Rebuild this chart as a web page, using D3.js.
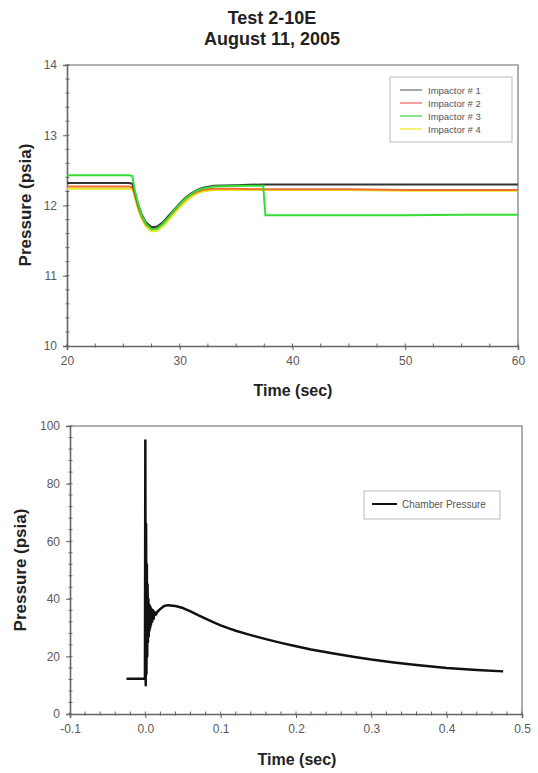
<!DOCTYPE html>
<html><head><meta charset="utf-8">
<script src="https://cdn.jsdelivr.net/npm/d3@7"></script>
<style>
body{margin:0;background:#fff;}
svg text{font-family:"Liberation Sans",Arial,sans-serif;}
</style></head>
<body><svg id="c" width="538" height="773"></svg>
<script>
// ---- Top chart data ----
const titleLines = ["Test 2-10E", "August 11, 2005"];
const topTime = [20, 22, 24, 25.5, 25.8, 26.0, 26.3, 26.6, 27.0, 27.5, 28.0, 28.5, 29.0, 29.5, 30.0, 30.5, 31.0, 31.5, 32.0, 33.0, 35.0, 37.4, 37.6, 40, 45, 50, 55, 60];
const impactor1 = [12.32, 12.32, 12.32, 12.32, 12.31, 12.20, 12.02, 11.88, 11.76, 11.69, 11.70, 11.76, 11.85, 11.94, 12.03, 12.11, 12.17, 12.22, 12.25, 12.28, 12.29, 12.30, 12.30, 12.30, 12.30, 12.30, 12.30, 12.30];
const impactor2 = [12.27, 12.27, 12.27, 12.27, 12.26, 12.16, 11.98, 11.85, 11.73, 11.67, 11.68, 11.74, 11.83, 11.92, 12.01, 12.09, 12.15, 12.19, 12.22, 12.24, 12.24, 12.23, 12.23, 12.23, 12.23, 12.22, 12.22, 12.22];
const impactor3 = [12.43, 12.43, 12.43, 12.43, 12.42, 12.22, 12.03, 11.87, 11.74, 11.66, 11.67, 11.74, 11.83, 11.93, 12.02, 12.10, 12.16, 12.21, 12.24, 12.27, 12.28, 12.28, 11.86, 11.86, 11.86, 11.86, 11.87, 11.87];
const impactor4 = [12.24, 12.24, 12.24, 12.24, 12.23, 12.12, 11.95, 11.82, 11.70, 11.63, 11.64, 11.70, 11.79, 11.88, 11.97, 12.05, 12.12, 12.17, 12.20, 12.22, 12.22, 12.22, 12.22, 12.22, 12.22, 12.21, 12.21, 12.21];
const topSeriesNames = ["Impactor # 1", "Impactor # 2", "Impactor # 3", "Impactor # 4"];
const topXTicks = [20, 30, 40, 50, 60];
const topYTicks = [10, 11, 12, 13, 14];

// ---- Bottom chart data ----
const botTime = [-0.025, -0.0005, 0, 0.0005, 0.001, 0.0015, 0.002, 0.0025, 0.003, 0.0035, 0.004, 0.0045, 0.005, 0.0055, 0.006, 0.0065, 0.007, 0.0075, 0.008, 0.009, 0.010, 0.011, 0.012, 0.014, 0.016, 0.02, 0.025, 0.03, 0.04, 0.05, 0.06, 0.07, 0.08, 0.09, 0.1, 0.11, 0.12, 0.14, 0.16, 0.18, 0.2, 0.22, 0.25, 0.28, 0.3, 0.33, 0.36, 0.4, 0.44, 0.475];
const chamberPressure = [12.2, 12.2, 95, 10, 66, 14, 52, 20, 45, 25, 40, 27, 38, 29, 37.5, 30, 37, 31, 36.5, 32, 36, 33, 35.5, 34.5, 35.5, 36.5, 37.5, 37.8, 37.5, 36.8, 35.6, 34.3, 33.1, 31.9, 30.8, 29.8, 28.9, 27.4, 26, 24.7, 23.5, 22.4, 21, 19.7, 18.9, 17.9, 17, 16, 15.3, 14.8];
const botSeriesName = "Chamber Pressure";
const botXTicks = [-0.1, 0.0, 0.1, 0.2, 0.3, 0.4, 0.5];
const botYTicks = [0, 20, 40, 60, 80, 100];
const axisTitleX = "Time (sec)";
const axisTitleY = "Pressure (psia)";

const svg = d3.select("#c");
const axisColor = "#666";
const labelColor = "#5a5a5a";

// title
svg.append("text").attr("x", 272).attr("y", 24).attr("text-anchor", "middle")
  .attr("font-size", 18).attr("font-weight", "bold").attr("fill", "#222").text(titleLines[0]);
svg.append("text").attr("x", 272).attr("y", 45).attr("text-anchor", "middle")
  .attr("font-size", 18).attr("font-weight", "bold").attr("fill", "#222").text(titleLines[1]);

function drawFrame(g, x, y, majX, minX, majY, minY, fmtX, fmtY) {
  const [x0, x1] = x.range();
  const [y0, y1] = y.range(); // y0 bottom, y1 top
  g.append("path").attr("d", `M${x0},${y1}H${x1}V${y0}`).attr("fill", "none")
    .attr("stroke", "#999").attr("stroke-width", 1.6);
  const gx = g.append("g");
  minX.forEach(v => gx.append("line").attr("x1", x(v)).attr("x2", x(v)).attr("y1", y0 - 2.5).attr("y2", y0 + 1.5)
    .attr("stroke", axisColor).attr("stroke-width", 1));
  minY.forEach(v => gx.append("line").attr("y1", y(v)).attr("y2", y(v)).attr("x1", x0 - 1.5).attr("x2", x0 + 2.5)
    .attr("stroke", axisColor).attr("stroke-width", 1));
  const ax = d3.axisBottom(x).tickValues(majX).tickSize(4).tickPadding(6).tickFormat(fmtX);
  const ay = d3.axisLeft(y).tickValues(majY).tickSize(4).tickPadding(6).tickFormat(fmtY);
  const gX = g.append("g").attr("transform", `translate(0,${y0})`).call(ax);
  const gY = g.append("g").attr("transform", `translate(${x0},0)`).call(ay);
  [gX, gY].forEach(a => {
    a.select(".domain").attr("stroke", axisColor).attr("stroke-width", 1.6);
    a.selectAll(".tick line").attr("stroke", axisColor).attr("stroke-width", 1);
    a.selectAll(".tick text").attr("fill", labelColor).attr("font-size", 12)
      .attr("font-family", "Liberation Sans, Arial, sans-serif");
  });
}

// ---- Top chart ----
const xT = d3.scaleLinear().domain([20, 60]).range([67, 518]);
const yT = d3.scaleLinear().domain([10, 14]).range([346, 65]);
const gT = svg.append("g");
drawFrame(gT, xT, yT, topXTicks, d3.range(20, 60.01, 2.5), topYTicks, d3.range(10, 14.01, 0.2),
  d3.format("d"), d3.format("d"));

const topColors = ["#333333", "#f07030", "#33dd33", "#e8e820"];
const topData = [impactor1, impactor2, impactor3, impactor4];
const lineT = d3.line().x(d => xT(d[0])).y(d => yT(d[1]));
[3, 1, 0, 2].forEach(i => {
  gT.append("path").datum(topTime.map((t, k) => [t, topData[i][k]]))
    .attr("d", lineT).attr("fill", "none").attr("stroke", topColors[i]).attr("stroke-width", 2);
});

// top legend
const lgT = gT.append("g");
lgT.append("rect").attr("x", 390).attr("y", 77).attr("width", 122).attr("height", 65)
  .attr("fill", "#fff").attr("stroke", "#bbb").attr("stroke-width", 1);
const legendColorsT = ["#888888", "#f08080", "#60e060", "#f0f040"];
topSeriesNames.forEach((n, i) => {
  const yy = 90 + i * 13;
  lgT.append("line").attr("x1", 400).attr("x2", 422).attr("y1", yy).attr("y2", yy)
    .attr("stroke", legendColorsT[i]).attr("stroke-width", 1.5);
  lgT.append("text").attr("x", 428).attr("y", yy + 3.5).attr("font-size", 9.5).attr("fill", "#555").text(n);
});

svg.append("text").attr("x", 293).attr("y", 396).attr("text-anchor", "middle")
  .attr("font-size", 16).attr("font-weight", "bold").attr("fill", "#222").text(axisTitleX);
svg.append("text").attr("transform", "translate(31,205) rotate(-90)").attr("text-anchor", "middle")
  .attr("font-size", 17).attr("font-weight", "bold").attr("fill", "#222").text(axisTitleY);

// ---- Bottom chart ----
const xB = d3.scaleLinear().domain([-0.1, 0.5]).range([70, 522]);
const yB = d3.scaleLinear().domain([0, 100]).range([714, 426]);
const gB = svg.append("g");
drawFrame(gB, xB, yB, botXTicks, d3.range(-0.1, 0.5001, 0.02), botYTicks, d3.range(0, 100.01, 4),
  v => d3.format(".1f")(v).replace("\u2212", "-"), d3.format("d"));

const lineB = d3.line().x(d => xB(d[0])).y(d => yB(d[1]));
gB.append("path").datum(botTime.map((t, k) => [t, chamberPressure[k]]))
  .attr("d", lineB).attr("fill", "none").attr("stroke", "#111").attr("stroke-width", 2.5)
  .attr("stroke-linejoin", "round");

const lgB = gB.append("g");
lgB.append("rect").attr("x", 364).attr("y", 491).attr("width", 136).attr("height", 28)
  .attr("fill", "#fff").attr("stroke", "#bbb").attr("stroke-width", 1);
lgB.append("line").attr("x1", 372).attr("x2", 397).attr("y1", 504).attr("y2", 504)
  .attr("stroke", "#111").attr("stroke-width", 2);
lgB.append("text").attr("x", 402).attr("y", 508).attr("font-size", 10).attr("fill", "#555").text(botSeriesName);

svg.append("text").attr("x", 297).attr("y", 765).attr("text-anchor", "middle")
  .attr("font-size", 16).attr("font-weight", "bold").attr("fill", "#222").text(axisTitleX);
svg.append("text").attr("transform", "translate(26,570) rotate(-90)").attr("text-anchor", "middle")
  .attr("font-size", 17).attr("font-weight", "bold").attr("fill", "#222").text(axisTitleY);
</script></body></html>
